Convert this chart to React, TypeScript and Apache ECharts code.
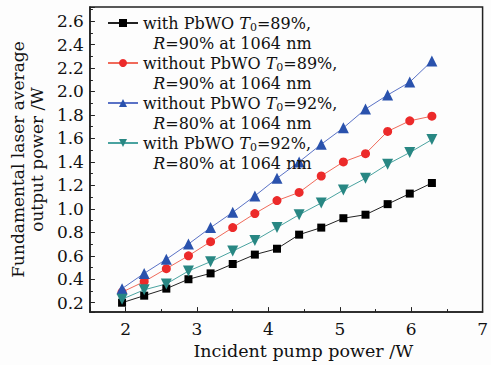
import React, { useEffect, useRef } from "react";
import * as echarts from "echarts";

const xValues = [1.95, 2.26, 2.57, 2.88, 3.19, 3.5, 3.81, 4.12, 4.43, 4.74, 5.05, 5.36, 5.67, 5.98, 6.29];
const withPbwo89 = [0.2, 0.26, 0.32, 0.4, 0.45, 0.53, 0.61, 0.66, 0.78, 0.84, 0.92, 0.95, 1.04, 1.13, 1.22];
const withoutPbwo89 = [0.29, 0.38, 0.49, 0.6, 0.72, 0.84, 0.96, 1.07, 1.14, 1.28, 1.4, 1.47, 1.66, 1.75, 1.79];
const withoutPbwo92 = [0.32, 0.45, 0.57, 0.7, 0.84, 0.97, 1.11, 1.26, 1.4, 1.55, 1.69, 1.85, 1.97, 2.08, 2.26];
const withPbwo92 = [0.23, 0.31, 0.36, 0.47, 0.55, 0.64, 0.73, 0.84, 0.95, 1.05, 1.16, 1.26, 1.38, 1.48, 1.59];

const seriesNames = ["s1", "s2", "s3", "s4"];
const legendLines: Record<string, [string, string]> = {
  s1: ["with PbWO {i|T}{sub|0}=89%,", "  {i|R}=90% at 1064 nm"],
  s2: ["without PbWO {i|T}{sub|0}=89%,", "  {i|R}=90% at 1064 nm"],
  s3: ["without PbWO {i|T}{sub|0}=92%,", "  {i|R}=80% at 1064 nm"],
  s4: ["with PbWO {i|T}{sub|0}=92%,", "  {i|R}=80% at 1064 nm"],
};

const FONT = "DejaVu Serif";

export default function App() {
  const ref = useRef<HTMLDivElement>(null);
  useEffect(() => {
    if (!ref.current) return;
    const chart = echarts.init(ref.current, null, { renderer: "svg" });
    const mk = (vals: number[]) => xValues.map((x, i) => [x, vals[i]]);
    const isMult = (v: number, step: number) => Math.abs(v / step - Math.round(v / step)) < 1e-6;
    chart.setOption({
      animation: false,
      backgroundColor: "#fdfdfd",
      textStyle: { fontFamily: FONT },
      grid: { left: 88, right: 3, top: 7, bottom: 52, show: true, borderColor: "#222", borderWidth: 1.5 },
      legend: {
        orient: "vertical",
        left: 102,
        top: -12,
        itemWidth: 30,
        itemHeight: 10,
        itemGap: -20,
        data: seriesNames,
        formatter: (name: string) => legendLines[name].join("\n"),
        textStyle: {
          fontFamily: FONT,
          fontSize: 16,
          color: "#111",
          lineHeight: 20,
          padding: [20, 0, 0, 0],
          rich: {
            i: { fontStyle: "italic", fontSize: 16, fontFamily: FONT, lineHeight: 20 },
            sub: { fontSize: 11, fontFamily: FONT, verticalAlign: "bottom", lineHeight: 20, padding: [8, 0, 0, 0] },
          },
        },
      },
      xAxis: {
        type: "value",
        min: 1.5,
        max: 7,
        splitNumber: 6,
        minInterval: 1,
        maxInterval: 1,
        name: "Incident pump power /W",
        nameLocation: "middle",
        nameGap: 29,
        nameTextStyle: { fontFamily: FONT, fontSize: 17.5, color: "#111", padding: [0, 0, 0, 34] },
        axisLine: { lineStyle: { color: "#222", width: 1.5 } },
        axisTick: { inside: true, length: 5, lineStyle: { color: "#222" } },
        minorTick: { show: true, splitNumber: 2, length: 3, lineStyle: { color: "#222" } },
        splitLine: { show: false },
        axisLabel: {
          fontFamily: FONT,
          fontSize: 17,
          color: "#111",
          margin: 8,
          showMinLabel: false,
          formatter: (v: number) => (isMult(v, 1) ? String(v) : ""),
        },
      },
      yAxis: {
        type: "value",
        min: 0.12,
        max: 2.72,
        splitNumber: 13,
        minInterval: 0.2,
        maxInterval: 0.2,
        name: "Fundamental laser average\noutput power /W",
        nameLocation: "middle",
        nameGap: 41,
        nameTextStyle: { fontFamily: FONT, fontSize: 17, color: "#111", lineHeight: 19 },
        axisLine: { lineStyle: { color: "#222", width: 1.5 } },
        axisTick: { inside: true, length: 5, lineStyle: { color: "#222" } },
        minorTick: { show: true, splitNumber: 2, length: 3, lineStyle: { color: "#222" } },
        splitLine: { show: false },
        axisLabel: {
          fontFamily: FONT,
          fontSize: 17,
          color: "#111",
          margin: 6,
          showMinLabel: false,
          showMaxLabel: false,
          formatter: (v: number) => (isMult(v, 0.2) ? v.toFixed(1) : ""),
        },
      },
      series: [
        {
          name: "s1",
          type: "line",
          data: mk(withPbwo89),
          symbol: "rect",
          symbolSize: 8,
          itemStyle: { color: "#000" },
          lineStyle: { color: "#222", width: 1 },
        },
        {
          name: "s2",
          type: "line",
          data: mk(withoutPbwo89),
          symbol: "circle",
          symbolSize: 9,
          itemStyle: { color: "#ec2a2a" },
          lineStyle: { color: "#f06a5a", width: 1 },
        },
        {
          name: "s3",
          type: "line",
          data: mk(withoutPbwo92),
          symbol: "triangle",
          symbolSize: 11,
          itemStyle: { color: "#2a52ad" },
          lineStyle: { color: "#5a72c6", width: 1 },
        },
        {
          name: "s4",
          type: "line",
          data: mk(withPbwo92),
          symbol: "triangle",
          symbolRotate: 180,
          symbolSize: 11,
          itemStyle: { color: "#288783" },
          lineStyle: { color: "#4aa3a0", width: 1 },
        },
      ],
    });
    return () => chart.dispose();
  }, []);
  return <div ref={ref} style={{ width: 491, height: 365, position: "absolute", left: 0, top: 0 }} />;
}
